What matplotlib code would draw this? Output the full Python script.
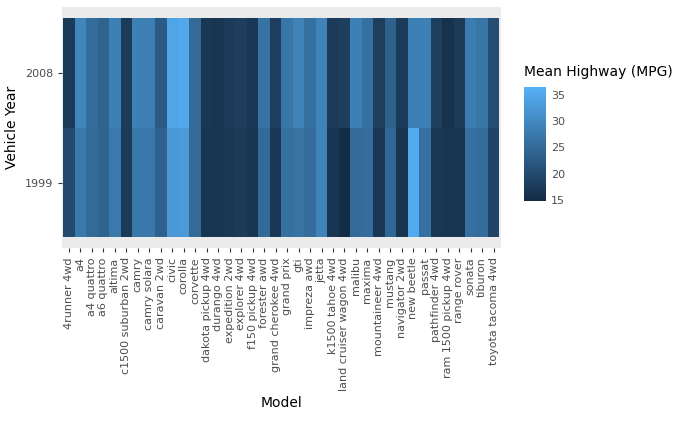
import matplotlib
matplotlib.use("Agg")
import matplotlib.pyplot as plt
import numpy as np
from matplotlib.colors import LinearSegmentedColormap

models = ["4runner 4wd","a4","a4 quattro","a6 quattro","altima","c1500 suburban 2wd","camry","camry solara",
"caravan 2wd","civic","corolla","corvette","dakota pickup 4wd","durango 4wd","expedition 2wd","explorer 4wd",
"f150 pickup 4wd","forester awd","grand cherokee 4wd","grand prix","gti","impreza awd","jetta","k1500 tahoe 4wd",
"land cruiser wagon 4wd","malibu","maxima","mountaineer 4wd","mustang","navigator 2wd","new beetle","passat",
"pathfinder 4wd","ram 1500 pickup 4wd","range rover","sonata","tiburon","toyota tacoma 4wd"]
years = ["1999","2008"]
hwy_1999 = [20.0,27.5,25.0,24.0,27.5,17.5,27.3,27.3,23.5,32.5,33.0,25.0,16.5,16.5,17.0,17.5,16.5,25.0,17.0,26.0,26.5,25.5,29.0,16.5,15.0,25.0,25.5,17.0,24.5,16.5,35.5,26.0,17.0,16.5,16.5,26.0,25.5,19.0]
hwy_2008 = [17.5,29.3,25.5,24.0,28.5,17.5,28.5,28.3,22.5,34.5,35.0,25.0,17.0,16.5,17.5,18.0,17.0,26.5,18.0,27.0,29.0,26.0,29.0,17.5,18.0,28.5,26.0,18.0,23.5,17.5,28.5,28.5,18.0,16.0,17.5,28.0,27.0,20.5]

Z = np.array([hwy_1999, hwy_2008])
cmap = LinearSegmentedColormap.from_list("gg", ["#132B43", "#56B1F7"])

fig = plt.figure(figsize=(6.82, 4.23), dpi=100)
ax = fig.add_axes([0.091, 0.413, 0.643, 0.570])
ax.set_facecolor("#EBEBEB")
mesh = ax.pcolormesh(np.arange(len(models)+1)-0.5, np.arange(3)-0.5, Z, cmap=cmap, vmin=14.8, vmax=36.5)
ax.set_xlim(-0.6, len(models)-0.4)
ax.set_ylim(-0.6, 1.6)
ax.set_xticks(range(len(models)))
ax.set_xticklabels(models, rotation=90, fontsize=8, color="#4D4D4D")
ax.set_yticks([0, 1])
ax.set_yticklabels(years, fontsize=8, color="#4D4D4D")
ax.tick_params(length=3, color="#333333")
for s in ax.spines.values():
    s.set_visible(False)
ax.set_xlabel("Model", fontsize=10)
ax.set_ylabel("Vehicle Year", fontsize=10)

cax = fig.add_axes([0.768, 0.525, 0.033, 0.27])
cb = fig.colorbar(mesh, cax=cax, ticks=[15, 20, 25, 30, 35])
cb.outline.set_visible(False)
cax.tick_params(labelsize=8, length=0, labelcolor="#4D4D4D")
cax.set_ylim(14.8, 36.5)
fig.text(0.768, 0.82, "Mean Highway (MPG)", fontsize=10)
fig.savefig("out.png", dpi=100)
